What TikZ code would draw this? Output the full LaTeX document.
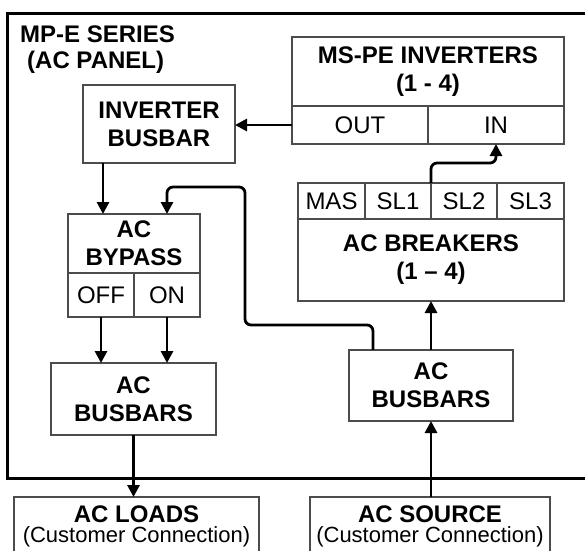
\documentclass[tikz,border=0pt]{standalone}
\usepackage{fontspec}
\setmainfont{Liberation Sans}
\usetikzlibrary{arrows.meta,calc}
\begin{document}
\begin{tikzpicture}[x=1pt,y=-1pt,
  box/.style={draw=black!70, line width=1.1pt, inner sep=0pt, outer sep=0pt},
  btxt/.style={font=\bfseries\fontsize{24}{28}\selectfont, align=center, inner sep=0pt},
  rtxt/.style={font=\fontsize{24}{28}\selectfont, align=center, inner sep=0pt},
  ctxt/.style={font=\fontsize{22}{26}\selectfont, align=center, inner sep=0pt},
  arr/.style={line width=2.8pt, -{Triangle[length=12pt,width=12pt]}},
  frame/.style={line width=3pt}]
\clip (0,0) rectangle (585,550);
\fill[white] (0,0) rectangle (585,550);
% panel frame
\draw[frame] (600,13) -- (7,13) -- (7,478) -- (600,478);
\node[btxt, anchor=west] (t1) at (20,34) {MP-E SERIES};
\node[btxt, anchor=west] (t2) at (27,62) {(AC PANEL)};
% MS-PE inverters
\node[box, btxt, minimum width=272pt, minimum height=69pt] (inv) at (428,71.5) {MS-PE INVERTERS\\(1 - 4)};
\node[box, rtxt, minimum width=136pt, minimum height=38pt] (out) at (360,125) {OUT};
\node[box, rtxt, minimum width=136pt, minimum height=38pt] (in) at (496,125) {IN};
% inverter busbar
\node[box, btxt, minimum width=152pt, minimum height=78pt] (ibus) at (159,124) {INVERTER\\BUSBAR};
% AC bypass
\node[box, btxt, minimum width=132pt, minimum height=59pt] (byp) at (134,243.5) {AC\\BYPASS};
\node[box, rtxt, minimum width=66pt, minimum height=44pt] (off) at (101,295) {OFF};
\node[box, rtxt, minimum width=66pt, minimum height=44pt] (on) at (167,295) {ON};
% AC breakers
\node[box, rtxt, minimum width=67pt, minimum height=36pt] (mas) at (331.5,201) {MAS};
\node[box, rtxt, minimum width=66pt, minimum height=36pt] (sl1) at (398,201) {SL1};
\node[box, rtxt, minimum width=66pt, minimum height=36pt] (sl2) at (464,201) {SL2};
\node[box, rtxt, minimum width=67pt, minimum height=36pt] (sl3) at (530.5,201) {SL3};
\node[box, btxt, minimum width=266pt, minimum height=82pt] (brk) at (431,260) {AC BREAKERS\\(1 -- 4)};
% busbars
\node[box, btxt, minimum width=165pt, minimum height=72pt] (lbus) at (133.5,399) {AC\\BUSBARS};
\node[box, btxt, minimum width=164pt, minimum height=71pt] (rbus) at (431,385.5) {AC\\BUSBARS};
% customer connections
\node[box, minimum width=245pt, minimum height=80pt] (loads) at (136.5,537) {};
\node[btxt] (loadsA) at (136.5,514) {AC LOADS};
\node[ctxt] (loadsB) at (136.5,537) {(Customer Connection)};
\node[box, minimum width=240pt, minimum height=80pt] (src) at (430,537) {};
\node[btxt] (srcA) at (430,514) {AC SOURCE};
\node[ctxt] (srcB) at (430,537) {(Customer Connection)};
% junction coordinates
\coordinate (j1) at (0,163);
\coordinate (j2) at (245,325);
\coordinate (j3) at (245,187);
\coordinate (r1) at ($(rbus.north west)+(24,0)$);
% connectors
\draw[arr] (out.west) -- (ibus.east |- out.west);
\draw[arr] ($(ibus.south west)+(20,0)$) -- ($(byp.north west)+(35,0)$);
\draw[arr] (off.south) -- (off.south |- lbus.north);
\draw[arr] (on.south) -- (on.south |- lbus.north);
\draw[arr, rounded corners=6pt] (sl2.north west) |- (j1 -| in.south) -- (in.south);
\draw[arr] (rbus.north) -- (brk.south);
\draw[arr, rounded corners=6pt] (r1) |- (j2) -- (j3) -- (j3 -| on.north) -- (on.north |- byp.north);
\draw[arr] (lbus.south) -- (lbus.south |- loads.north);
\draw[arr] (src.north -| rbus.south) -- (rbus.south);
\end{tikzpicture}
\end{document}
